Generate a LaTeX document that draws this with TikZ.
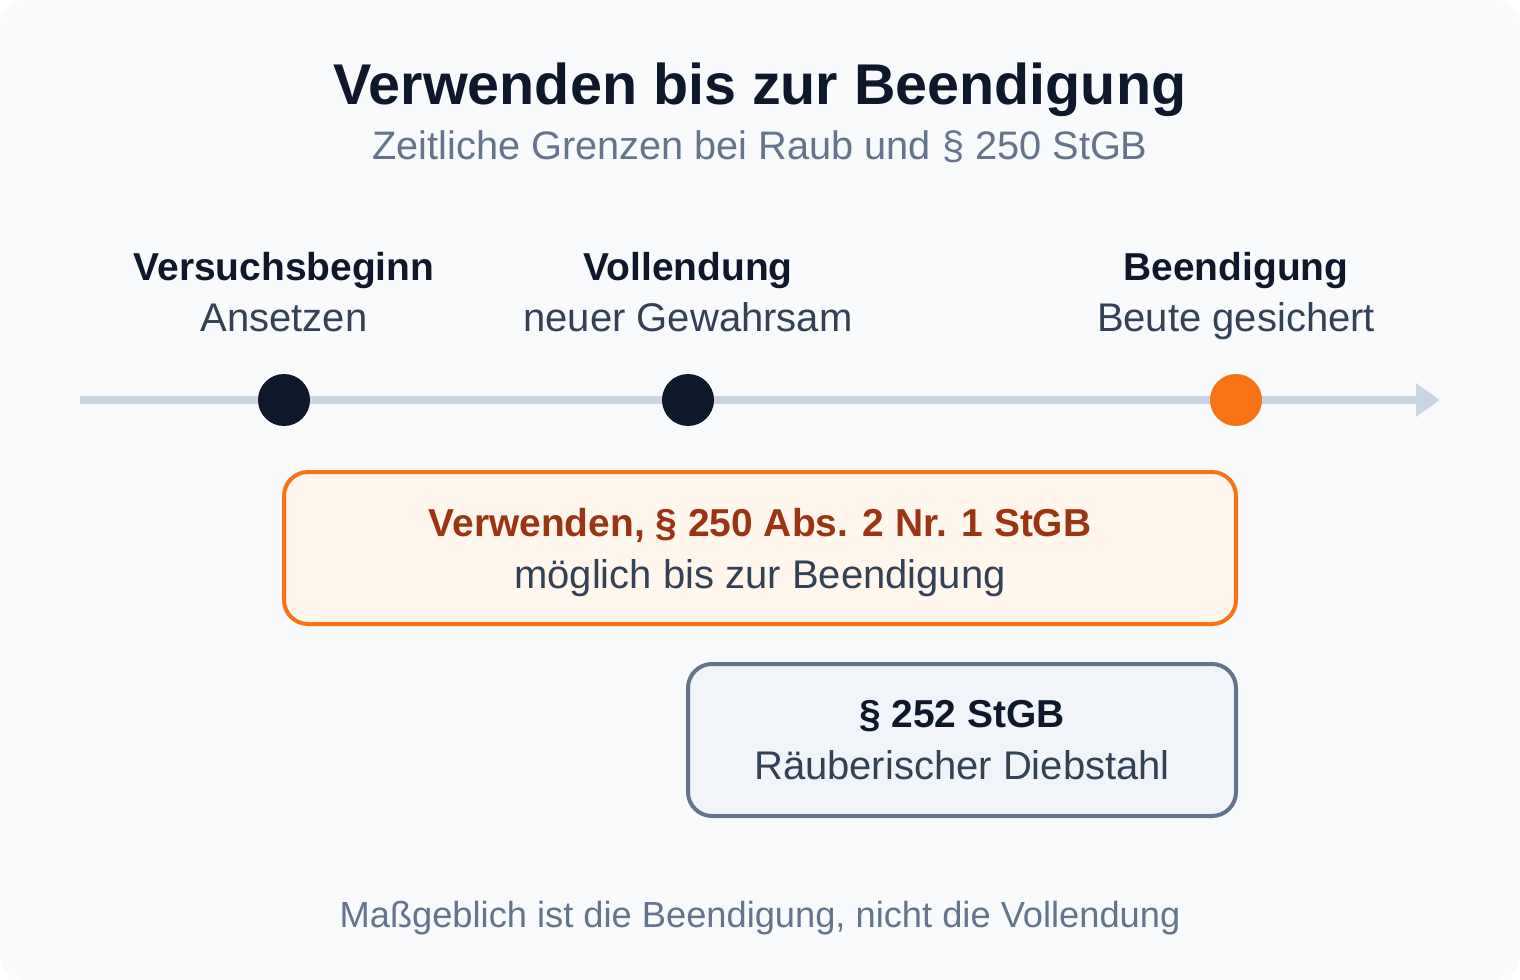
\documentclass[tikz,border=0pt]{standalone}
\usepackage{fontspec}
\setmainfont{Liberation Sans}
\usetikzlibrary{arrows.meta}
\definecolor{bgcol}{HTML}{F8FAFC}
\definecolor{ink}{HTML}{0F172A}
\definecolor{muted}{HTML}{64748B}
\definecolor{bodyink}{HTML}{334155}
\definecolor{rail}{HTML}{CBD5E1}
\definecolor{accent}{HTML}{F97316}
\definecolor{accentfill}{HTML}{FFF7ED}
\definecolor{accentink}{HTML}{9A3412}
\definecolor{greyfill}{HTML}{F1F5F9}
\begin{document}
\begin{tikzpicture}[x=0.75pt, y=-0.75pt,
  dot/.style={circle, inner sep=0pt, minimum size=39pt, fill=ink},
  head/.style={anchor=base, inner sep=0pt, text=ink, font=\fontsize{29.2}{34}\selectfont\bfseries},
  sub/.style={anchor=base, inner sep=0pt, text=bodyink, font=\fontsize{30}{36}\selectfont},
  box/.style={rounded corners=18pt, line width=3pt, inner sep=0pt, minimum height=114pt}]
\fill[white] (0,0) rectangle (1520,980);
\fill[bgcol, rounded corners=18pt] (0,0) rectangle (1520,980);
% title
\node[anchor=base, inner sep=0pt, text=ink, font=\fontsize{43.1}{50}\selectfont\bfseries] (title) at (760,105) {Verwenden bis zur Beendigung};
\node[anchor=base, inner sep=0pt, text=muted, font=\fontsize{29.8}{36}\selectfont] (subtitle) at (760,160) {Zeitliche Grenzen bei Raub und § 250 StGB};
% timeline
\coordinate (start) at (80,400);
\coordinate (end) at (1440,400);
\draw[rail, line width=6pt, -{Triangle[length=18pt, width=24pt]}] (start) -- (end);
\node[dot] (vb) at (284,400) {};
\node[dot] (vo) at (688,400) {};
\node[dot, fill=accent] (be) at (1236,400) {};
\node[head] (vbhead) at (284,281) {Versuchsbeginn};
\node[sub] (vbsub) at (284,332) {Ansetzen};
\node[head] (vohead) at (688,281) {Vollendung};
\node[sub] (vosub) at (688,332) {neuer Gewahrsam};
\node[head] (behead) at (1236,281) {Beendigung};
\node[sub] (besub) at (1236,332) {Beute gesichert};
% boxes
\node[box, draw=accent, fill=accentfill, minimum width=714pt] (verw) at (760,548) {};
\node[head, text=accentink] (verwhead) at (760,536) {Verwenden, § 250 Abs. 2 Nr. 1 StGB};
\node[sub] (verwsub) at (760,588) {möglich bis zur Beendigung};
\node[box, draw=muted, fill=greyfill, minimum width=411pt] (raeub) at (962,740) {};
\node[head] (raeubhead) at (962,727) {§ 252 StGB};
\node[sub] (raeubsub) at (962,779) {Räuberischer Diebstahl};
% note
\node[anchor=base, inner sep=0pt, text=muted, font=\fontsize{27.2}{32}\selectfont] (note) at (760,927) {Maßgeblich ist die Beendigung, nicht die Vollendung};
\end{tikzpicture}
\end{document}
